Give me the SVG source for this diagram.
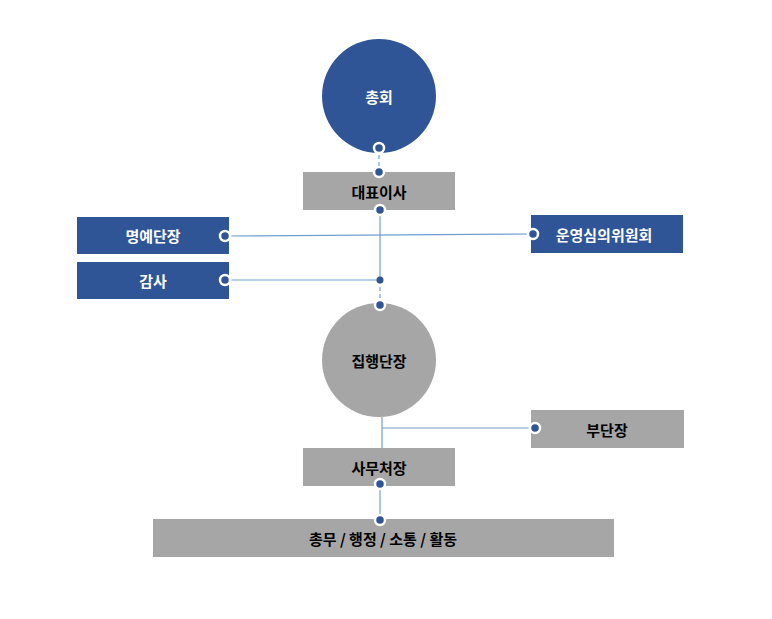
<svg xmlns="http://www.w3.org/2000/svg" width="772" height="619" viewBox="0 0 772 619">
<style>
.blue{fill:#2F5597}
.gray{fill:#A6A6A6}
.tw{font-family:"Noto Sans CJK KR","Noto Sans",sans-serif;font-size:15px;font-weight:bold;fill:#FFFFFF;text-anchor:middle;dominant-baseline:central}
.tb{font-family:"Noto Sans CJK KR","Noto Sans",sans-serif;font-size:15px;font-weight:bold;fill:#000000;text-anchor:middle;dominant-baseline:central}
.ln{stroke:#6F9FCF;stroke-width:1.2;fill:none}
.dash{stroke:#6F9FCF;stroke-width:1.2;fill:none;stroke-dasharray:4 3}
.dot{fill:#2F5597;stroke:#FFFFFF;stroke-width:2.5}
.sdot{fill:#2F5597}
</style>
<rect width="772" height="619" fill="#FFFFFF"/>
<g id="connectors">
<line class="dash" x1="379" y1="148" x2="379" y2="172"/>
<line class="ln" x1="380" y1="210" x2="380" y2="280"/>
<line class="dash" x1="380" y1="280" x2="380" y2="305"/>
<line class="ln" x1="225" y1="236" x2="533" y2="234"/>
<line class="ln" x1="225" y1="280" x2="380" y2="280"/>
<line class="ln" x1="382" y1="417" x2="382" y2="448"/>
<line class="ln" x1="382" y1="428" x2="535" y2="428"/>
<line class="ln" x1="380" y1="484" x2="380" y2="520"/>
</g>
<g id="n-chonghoe">
<circle class="blue" cx="379" cy="96" r="57"/>
<text class="tw" x="379" y="96">총회</text>
</g>
<g id="n-daepyo">
<rect class="gray" x="303" y="172" width="152" height="38"/>
<text class="tb" x="379" y="191">대표이사</text>
</g>
<g id="n-myeongye">
<rect class="blue" x="77" y="217" width="152" height="37"/>
<text class="tw" x="153" y="235.5">명예단장</text>
</g>
<g id="n-gamsa">
<rect class="blue" x="77" y="262" width="152" height="37"/>
<text class="tw" x="153" y="280.5">감사</text>
</g>
<g id="n-unyeong">
<rect class="blue" x="531" y="215" width="152" height="38"/>
<text class="tw" x="604" y="234">운영심의위원회</text>
</g>
<g id="n-jiphaeng">
<circle class="gray" cx="379" cy="360" r="57"/>
<text class="tb" x="379" y="360">집행단장</text>
</g>
<g id="n-budan">
<rect class="gray" x="531" y="410" width="153" height="38"/>
<text class="tb" x="607" y="429">부단장</text>
</g>
<g id="n-samu">
<rect class="gray" x="303" y="448" width="152" height="38"/>
<text class="tb" x="379" y="467">사무처장</text>
</g>
<g id="n-chongmu">
<rect class="gray" x="153" y="519" width="461" height="38"/>
<text class="tb" x="383" y="538">총무 / 행정 / 소통 / 활동</text>
</g>
<g id="dots">
<circle class="dot" cx="379" cy="148" r="5"/>
<circle class="dot" cx="379" cy="172" r="5"/>
<circle class="dot" cx="380" cy="210" r="5"/>
<circle class="sdot" cx="380" cy="280" r="3.5"/>
<circle class="dot" cx="380" cy="305" r="5"/>
<circle class="dot" cx="225" cy="236" r="5"/>
<circle class="dot" cx="225" cy="280" r="5"/>
<circle class="dot" cx="533" cy="234" r="5"/>
<circle class="dot" cx="535" cy="428" r="5"/>
<circle class="dot" cx="380" cy="484" r="5"/>
<circle class="dot" cx="380" cy="520" r="5"/>
</g>
</svg>
